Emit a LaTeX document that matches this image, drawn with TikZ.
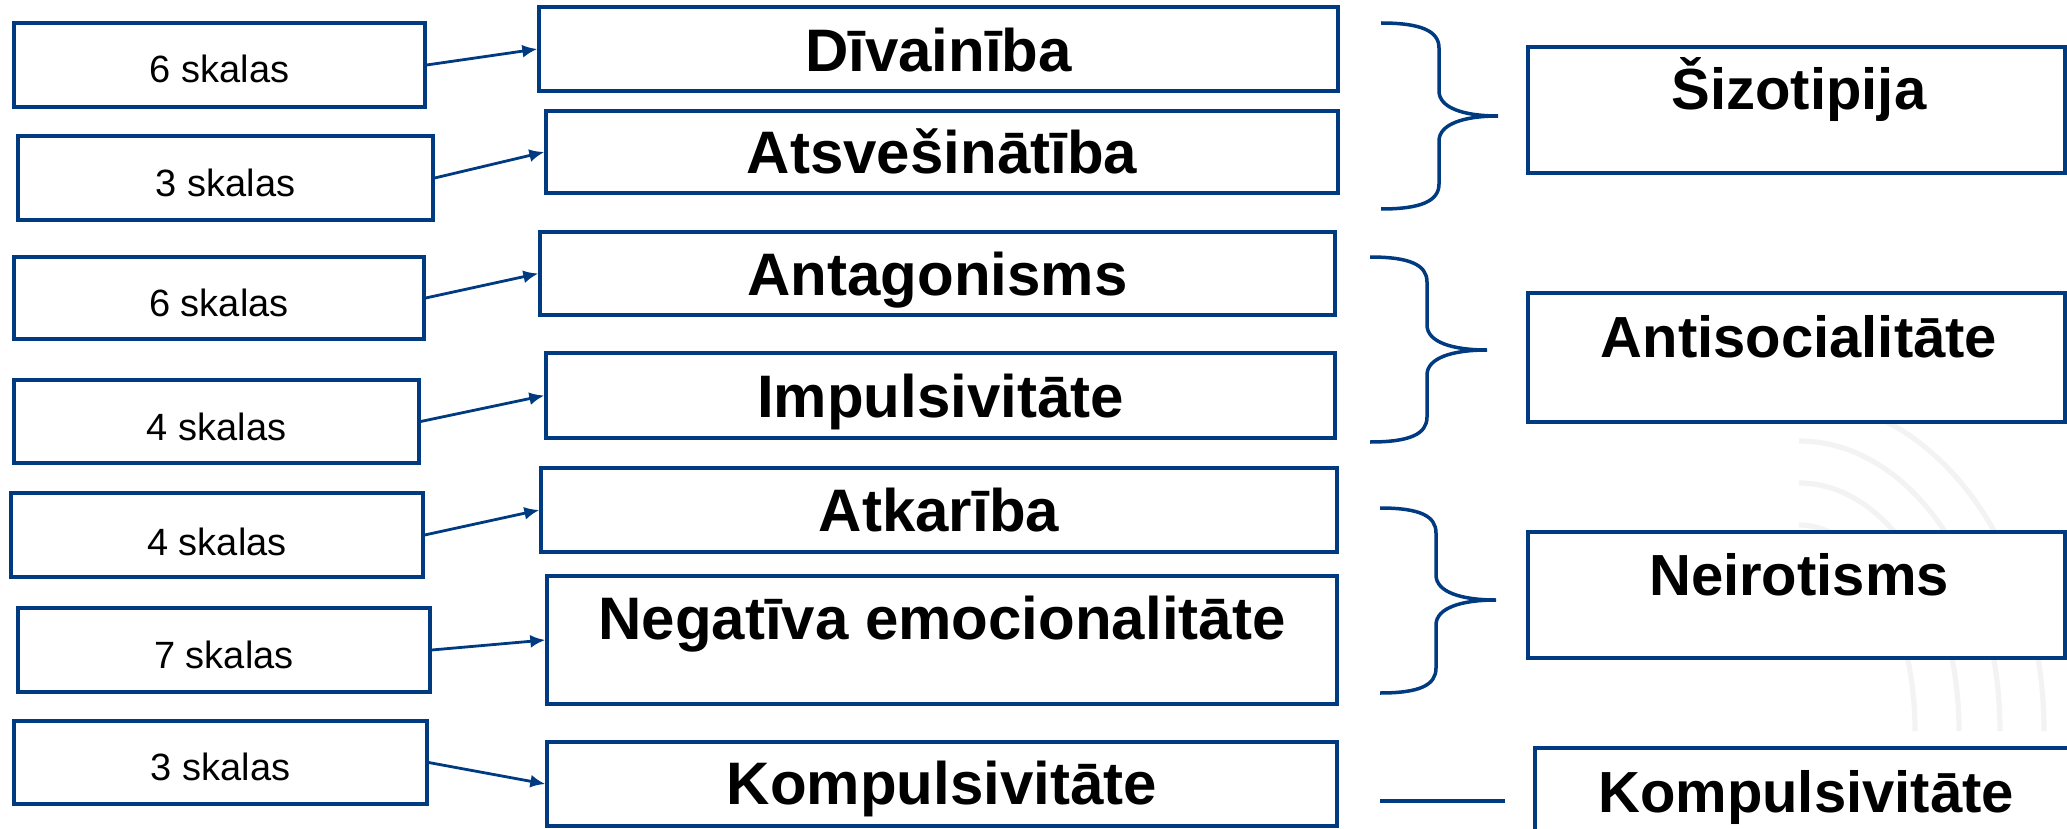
\documentclass[tikz,border=0pt]{standalone}
\usepackage{fontspec}
\setmainfont{Liberation Sans}
\usetikzlibrary{fit,arrows.meta}
\definecolor{navy}{RGB}{0,58,128}
\definecolor{wm}{RGB}{243,243,243}
\tikzset{
  frame/.style={draw=navy, line width=1.65pt, fill=white, inner sep=0pt},
  small/.style={font=\fontsize{19}{19}\selectfont, anchor=base, inner sep=0pt},
  big/.style={font=\bfseries\fontsize{30}{30}\selectfont, anchor=base, inner sep=0pt},
  bigr/.style={font=\bfseries\fontsize{29}{29}\selectfont, anchor=base, inner sep=0pt},
  arr/.style={draw=navy, line width=1.4pt, -{Latex[length=7.5pt,width=6.5pt]}},
  bracel/.style={draw=navy, line width=1.75pt},
  wmarc/.style={draw=wm, line width=2.6pt},
}
\newcommand\mybrace[6]{% X0 X1 X2 T M B
  \draw[bracel] (#1,#4) .. controls ({#1+40},#4) and (#2,{#4+8}) .. (#2,{#4+25})
    -- (#2,{#5-25}) .. controls (#2,{#5-8}) and ({#2+25},#5) .. (#3,#5)
    .. controls ({#2+25},#5) and (#2,{#5+8}) .. (#2,{#5+25})
    -- (#2,{#6-25}) .. controls (#2,{#6-8}) and ({#1+40},#6) .. (#1,#6);}
\begin{document}
\begin{tikzpicture}[x=0.5pt,y=-0.5pt]
\useasboundingbox (0,0) rectangle (2067,829);
\clip (0,0) rectangle (2067,829);
% faint watermark arcs
\foreach \rx/\ry in {116/206,160/248,201/290,245/331}{
  \draw[wmarc] (1799,{731-\ry}) arc[start angle=90, end angle=0, x radius=\rx, y radius=-\ry];
}
% left boxes
\node[frame, fit={(14,23)(425,107)}] (l1) {};
\node[frame, fit={(18,136)(433,220)}] (l2) {};
\node[frame, fit={(14,257)(424,339)}] (l3) {};
\node[frame, fit={(14,380)(419,463)}] (l4) {};
\node[frame, fit={(11,493)(423,577)}] (l5) {};
\node[frame, fit={(18,608)(430,692)}] (l6) {};
\node[frame, fit={(14,721)(427,804)}] (l7) {};
\node[small] (t1) at (219.5,83) {6 skalas};
\node[small] (t2) at (225.5,197) {3 skalas};
\node[small] (t3) at (219,316) {6 skalas};
\node[small] (t4) at (216.5,440) {4 skalas};
\node[small] (t5) at (217,555) {4 skalas};
\node[small] (t6) at (224,668) {7 skalas};
\node[small] (t7) at (220.5,780) {3 skalas};
% middle boxes
\node[frame, fit={(539,7)(1338,91)}] (m1) {};
\node[frame, fit={(546,111)(1338,193)}] (m2) {};
\node[frame, fit={(540,232)(1335,315)}] (m3) {};
\node[frame, fit={(546,353)(1335,438)}] (m4) {};
\node[frame, fit={(541,468)(1337,552)}] (m5) {};
\node[frame, fit={(547,576)(1337,704)}] (m6) {};
\node[frame, fit={(547,742)(1337,826)}] (m7) {};
\node[big] (n1) at (938.5,72) {Dīvainība};
\node[big] (n2) at (942,173) {Atsvešinātība};
\node[big] (n3) at (937.5,295) {Antagonisms};
\node[big] (n4) at (940.5,417) {Impulsivitāte};
\node[big] (n5) at (939,531) {Atkarība};
\node[big] (n6) at (942,639) {Negatīva emocionalitāte};
\node[big] (n7) at (942,804) {Kompulsivitāte};
% right boxes
\node[frame, fit={(1528,47)(2065,173)}] (r1) {};
\node[frame, fit={(1528,293)(2065,422)}] (r2) {};
\node[frame, fit={(1528,532)(2065,658)}] (r3) {};
\node[frame, fit={(1535,748)(2078,874)}] (r4) {};
\node[bigr] (s1) at (1799,110) {Šizotipija};
\node[bigr] (s2) at (1799,357) {Antisocialitāte};
\node[bigr] (s3) at (1799,595) {Neirotisms};
\node[bigr] (s4) at (1806,812) {Kompulsivitāte};
% arrows
\draw[arr] (l1.east) -- (m1.west);
\draw[arr] (l2.east) -- (m2.west);
\draw[arr] (l3.east) -- (m3.west);
\draw[arr] (l4.east) -- (m4.west);
\draw[arr] (l5.east) -- (m5.west);
\draw[arr] (l6.east) -- (m6.west);
\draw[arr] (l7.east) -- (m7.west);
% braces
\mybrace{1381}{1439}{1498}{23}{116}{209}
\mybrace{1370}{1427}{1487}{257}{350}{442}
\mybrace{1380}{1436}{1496}{508}{600}{693}
% plain line
\coordinate (k1) at (1380,801);
\coordinate (k2) at (1505,801);
\draw[bracel] (k1) -- (k2);
\end{tikzpicture}
\end{document}
